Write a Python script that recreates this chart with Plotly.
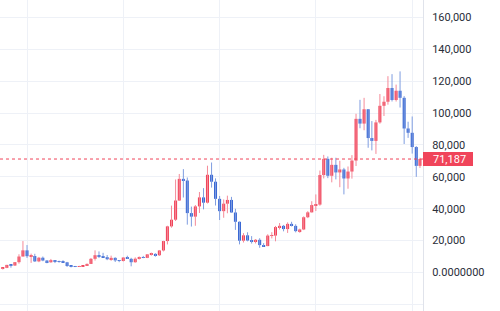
import plotly.graph_objects as go
import pandas as pd

# Monthly candles (BTC/USD style), Jul 2017 .. Mar 2026
months = pd.date_range("2017-07-01", "2026-03-01", freq="MS")

opens = [
    2480, 2875, 4735, 4340, 6440, 10000,
    13860, 10200, 10300, 6930, 9240, 7490, 6390, 7730, 7030, 6630, 6370, 4020,
    3740, 3460, 3850, 4100, 5350, 8550, 10820, 10090, 9600, 8290, 9150, 7550,
    7190, 9350, 8540, 6410, 8620, 9450, 9140, 11350, 11650, 10780, 13800, 19700,
    28920, 33100, 45140, 58740, 57690, 37250, 35040, 41460, 47100, 43790, 61300, 56950,
    46200, 38470, 43160, 45510, 37630, 31800, 19940, 23300, 20050, 19430, 20490, 17170,
    16540, 23130, 23140, 28480, 29250, 27220, 30480, 29230, 25940, 26970, 34640, 37720,
    42280, 42580, 61130, 71290, 60670, 67530, 62770, 64630, 58970, 63330, 70220, 96410,
    93430, 102430, 84350, 82550, 94170, 104590, 107140, 115760, 108250, 114050, 109600, 90360,
    87650, 78700, 66900,
]
highs = [
    2950, 4760, 4980, 6470, 11400, 19700,
    17200, 11800, 11700, 9750, 9990, 7750, 8480, 7760, 7410, 7680, 6620, 4300,
    4110, 4200, 4110, 5630, 9090, 13880, 13200, 12320, 10950, 10540, 9520, 7750,
    9570, 10500, 9190, 9460, 10080, 10380, 11440, 12470, 12050, 14100, 19860, 29300,
    41950, 58350, 61800, 64850, 59600, 41330, 42320, 50500, 52920, 67000, 69000, 59050,
    47990, 45820, 48190, 47440, 39980, 31980, 24670, 25210, 22800, 20990, 21480, 18390,
    23960, 25250, 29180, 31000, 29820, 31430, 31800, 30240, 27480, 35200, 38450, 44700,
    48970, 63970, 73780, 72800, 71980, 71990, 70080, 65660, 66500, 73620, 99590, 108350,
    109590, 102500, 95000, 95760, 111980, 110590, 123200, 124470, 117900, 126200, 110650, 94600,
    97900, 79300, 72000,
]
lows = [
    1830, 2670, 2980, 4110, 5500, 10400,
    9100, 6000, 6600, 6430, 7040, 5750, 6070, 5880, 6100, 6200, 3500, 3150,
    3350, 3390, 3700, 4080, 5340, 7450, 9050, 9400, 7710, 7300, 6540, 6430,
    6850, 8450, 3850, 6150, 8120, 8930, 8980, 10530, 9880, 10370, 13200, 17570,
    28130, 32300, 45000, 47040, 30000, 28800, 29280, 37330, 39600, 43280, 53250, 42000,
    32900, 34320, 37150, 37580, 26700, 17620, 18780, 19520, 18130, 18190, 15480, 16260,
    16500, 21350, 19550, 26940, 25810, 24800, 28860, 25170, 24900, 26550, 34100, 37630,
    38550, 41880, 59000, 59190, 56550, 58400, 53500, 49000, 52550, 58870, 66800, 90500,
    89250, 78250, 76600, 74400, 93350, 98200, 105300, 107300, 107270, 103500, 80600, 84450,
    74600, 60000, 65600,
]
closes = [
    2875, 4735, 4340, 6440, 10000, 13860,
    10200, 10300, 6930, 9240, 7490, 6390, 7730, 7030, 6630, 6370, 4020, 3740,
    3460, 3850, 4100, 5350, 8550, 10820, 10090, 9600, 8290, 9150, 7550, 7190,
    9350, 8540, 6410, 8620, 9450, 9140, 11350, 11650, 10780, 13800, 19700, 28920,
    33100, 45140, 58740, 57690, 37250, 35040, 41460, 47100, 43790, 61300, 56950, 46200,
    38470, 43160, 45510, 37630, 31800, 19940, 23300, 20050, 19430, 20490, 17170, 16540,
    23130, 23140, 28480, 29250, 27220, 30480, 29230, 25940, 26970, 34640, 37720, 42280,
    42580, 61130, 71290, 60670, 67530, 62770, 64630, 58970, 63330, 70220, 96410, 93430,
    102430, 84350, 82550, 94170, 104590, 107140, 115760, 108250, 114050, 109600, 90360, 87650,
    78700, 66900, 71187,
]

tick_vals = [-20000, 0, 20000, 40000, 60000, 80000, 100000, 120000, 140000, 160000]
tick_text = ["", "0.0000000", "20,000", "40,000", "60,000", "80,000",
             "100,000", "120,000", "140,000", "160,000"]
last_price = closes[-1]
last_label = "71,187"

UP = "#F0445A"
DOWN = "#3A68D4"
UP_WICK = "#F58A98"
DOWN_WICK = "#7F9DE0"
GRID = "#EEF1F7"
DAY_MS = 86400000

fig = go.Figure()

for is_up, body_col, wick_col in [(True, UP, UP_WICK), (False, DOWN, DOWN_WICK)]:
    xs, bases, lens, wx, wy = [], [], [], [], []
    for d, o, h, l, c in zip(months, opens, highs, lows, closes):
        if (c >= o) != is_up:
            continue
        xs.append(d)
        bases.append(min(o, c))
        lens.append(max(abs(c - o), 350))
        wx += [d, d, None]
        wy += [l, h, None]
    fig.add_trace(go.Scatter(x=wx, y=wy, mode="lines",
                             line=dict(color=wick_col, width=1),
                             hoverinfo="skip", showlegend=False))
    fig.add_trace(go.Bar(x=xs, y=lens, base=bases, width=23 * DAY_MS,
                         marker=dict(color=body_col, line=dict(width=0)),
                         hoverinfo="skip", showlegend=False))

fig.add_shape(type="line", xref="paper", yref="y", x0=0, x1=1,
              y0=last_price, y1=last_price,
              line=dict(color=UP, width=1, dash="dot"))
fig.add_shape(type="rect", xref="paper", yref="y", x0=1, x1=1 + 50 / 423,
              y0=last_price - 4400, y1=last_price + 4400,
              fillcolor=UP, line=dict(width=0), layer="above")
fig.add_annotation(xref="paper", yref="y", x=1 + 8 / 423, y=last_price,
                   xanchor="left", yanchor="middle", showarrow=False,
                   text=last_label, font=dict(color="white", size=11, family="Roboto"))

fig.update_layout(
    width=500, height=311,
    margin=dict(l=0, r=77, t=0, b=0),
    paper_bgcolor="white", plot_bgcolor="white",
    hovermode=False, showlegend=False, barmode="overlay",
    font=dict(family="Roboto", size=11, color="#2A2E39"),
    xaxis=dict(
        type="date",
        range=["2017-06-10", "2026-03-24"],
        tick0="2018-01-01", dtick="M24",
        showgrid=True, gridcolor=GRID, gridwidth=1,
        showticklabels=False, zeroline=False, showline=False, ticks="",
    ),
    yaxis=dict(
        side="right", range=[-24200, 171000],
        tickmode="array", tickvals=tick_vals, ticktext=tick_text,
        showgrid=True, gridcolor=GRID, gridwidth=1,
        zeroline=False, showline=True, linecolor="#E0E3EB", linewidth=1,
        ticks="", ticklabelstandoff=6,
    ),
)

fig.write_html("out.html")
